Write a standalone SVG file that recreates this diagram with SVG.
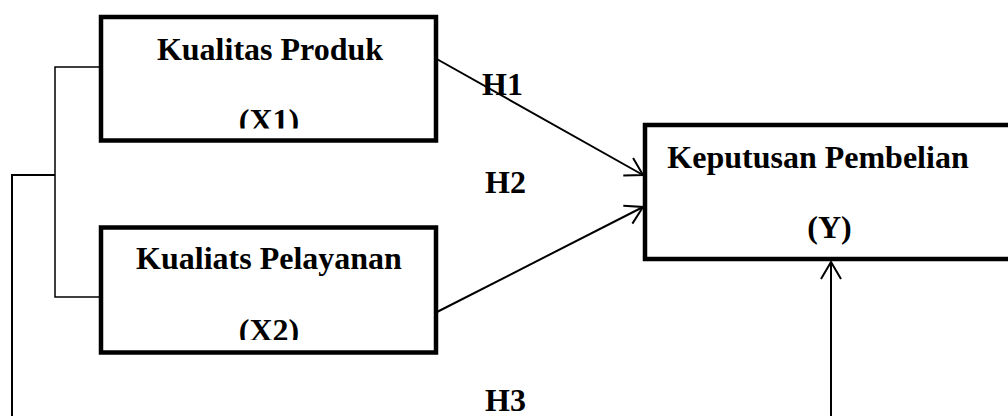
<svg xmlns="http://www.w3.org/2000/svg" width="1008" height="416" viewBox="0 0 1008 416">
<style>
.box{fill:none;stroke:#000;stroke-width:4.5}
.t{font-family:"Liberation Serif","Times New Roman",serif;font-weight:bold;font-size:32px;fill:#000}
.m{text-anchor:middle}
.thin{fill:none;stroke:#000;stroke-width:1.5}
.ln{fill:none;stroke:#000;stroke-width:2}
</style>
<defs>
<marker id="ah" markerUnits="userSpaceOnUse" orient="auto" markerWidth="24" markerHeight="24" viewBox="-20 -12 24 24" refX="0" refY="0" overflow="visible">
<path d="M-17,-10 L0,0 L-17,10" fill="none" stroke="#000" stroke-width="2"/>
</marker>
<clipPath id="c1"><rect x="100" y="0" width="340" height="128.5"/></clipPath>
<clipPath id="c2"><rect x="100" y="200" width="340" height="140"/></clipPath>
</defs>
<rect width="1008" height="416" fill="#fff"/>
<g id="connectors">
<polyline class="thin" points="99,67 55,67 55,297 99,297"/>
<polyline class="ln" points="55,175 12,175 12,420"/>
<line class="ln" x1="435" y1="58" x2="643" y2="175" marker-end="url(#ah)"/>
<line class="ln" x1="435" y1="313" x2="643" y2="207" marker-end="url(#ah)"/>
<line class="ln" x1="831" y1="420" x2="831" y2="262" marker-end="url(#ah)"/>
<text class="t" x="482" y="95">H1</text>
<text class="t" x="485" y="193">H2</text>
<text class="t" x="485" y="411">H3</text>
</g>
<g id="x1">
<rect class="box" x="101" y="17" width="335" height="123.5"/>
<text class="t m" x="270" y="60">Kualitas Produk</text>
<text class="t m" x="269" y="131" clip-path="url(#c1)">(X1)</text>
</g>
<g id="x2">
<rect class="box" x="101" y="227.5" width="335" height="125"/>
<text class="t m" x="269" y="269">Kualiats Pelayanan</text>
<text class="t m" x="269" y="341" clip-path="url(#c2)">(X2)</text>
</g>
<g id="y">
<rect class="box" x="645" y="125" width="400" height="134"/>
<text class="t m" x="818" y="168">Keputusan Pembelian</text>
<text class="t m" x="829.5" y="238">(Y)</text>
</g>
</svg>
